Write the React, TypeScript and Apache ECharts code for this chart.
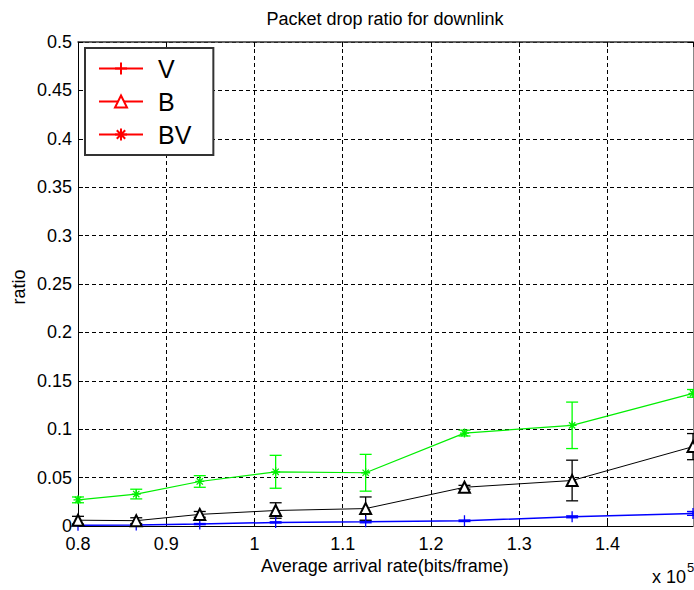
import React, { useEffect, useRef } from "react";
import * as echarts from "echarts";

const FONT = "'Liberation Sans', Arial, Helvetica, sans-serif";

const xValues = [0.8, 0.866, 0.938, 1.024, 1.126, 1.238, 1.36, 1.497];
const vValues = [0.0007, 0.001, 0.002, 0.0037, 0.0043, 0.0054, 0.0095, 0.013];
const bValues = [0.006, 0.0055, 0.012, 0.016, 0.018, 0.04, 0.047, 0.082];
const bvValues = [0.027, 0.033, 0.046, 0.056, 0.055, 0.096, 0.104, 0.137];
const vErr = [0.0005, 0.0005, 0.0006, 0.0006, 0.001, 0.0008, 0.001, 0.002];
const bErr = [0.004, 0.003, 0.003, 0.008, 0.012, 0.002, 0.021, 0.0135];
const bvErr = [0.003, 0.005, 0.006, 0.017, 0.019, 0.003, 0.024, 0.004];
const legendNames = ["V", "B", "BV"];

const X_MIN = 0.8;
const X_MAX = 1.497;
const Y_MIN = 0;
const Y_MAX = 0.5;

const PLUS = "path://M5,0L5,10M0,5L10,5";
const STAR = "path://M5,0L5,10M0,5L10,5M1.5,1.5L8.5,8.5M1.5,8.5L8.5,1.5";

function errData(vals: number[], errs: number[]) {
  return xValues.map((x, i) => [x, vals[i] - errs[i], vals[i] + errs[i]]);
}

function errorSeries(name: string, vals: number[], errs: number[], color: string) {
  return {
    name,
    type: "custom",
    xAxisIndex: 0,
    yAxisIndex: 0,
    z: 3,
    encode: { x: 0, y: [1, 2] },
    data: errData(vals, errs),
    renderItem: (params: any, api: any) => {
      const x = api.value(0);
      const lo = api.value(1);
      const hi = api.value(2);
      const p1 = api.coord([x, lo]);
      const p2 = api.coord([x, hi]);
      const hw = 6;
      const style = { stroke: color, lineWidth: 1.3, fill: "none" };
      return {
        type: "group",
        children: [
          { type: "line", shape: { x1: p1[0], y1: p1[1], x2: p2[0], y2: p2[1] }, style },
          { type: "line", shape: { x1: p1[0] - hw, y1: p1[1], x2: p1[0] + hw, y2: p1[1] }, style },
          { type: "line", shape: { x1: p2[0] - hw, y1: p2[1], x2: p2[0] + hw, y2: p2[1] }, style },
        ],
      };
    },
  };
}

function lineSeries(name: string, vals: number[], color: string, symbol: string, size: number, width: number) {
  return {
    name,
    type: "line",
    xAxisIndex: 0,
    yAxisIndex: 0,
    z: 4,
    data: xValues.map((x, i) => [x, vals[i]]),
    symbol,
    symbolSize: size,
    showSymbol: true,
    lineStyle: { color, width },
    itemStyle: { color, borderColor: color, borderWidth: 1.3 },
  };
}

function legendSeries(name: string, symbol: string) {
  return {
    name,
    type: "line",
    xAxisIndex: 0,
    yAxisIndex: 0,
    data: [],
    symbol,
    symbolSize: 12,
    lineStyle: { color: "#ff0000", width: 1.5 },
    itemStyle: { color: "#ff0000", borderColor: "#ff0000", borderWidth: 1.5 },
  };
}

const App: React.FC = () => {
  const ref = useRef<HTMLDivElement>(null);

  useEffect(() => {
    if (!ref.current) return;
    const chart = echarts.init(ref.current, undefined, { renderer: "svg" });
    const axisCommon = {
      type: "value",
      axisTick: { show: true, inside: true, length: 5, lineStyle: { color: "#000" } },
    };
    const option: any = {
      animation: false,
      backgroundColor: "#ffffff",
      grid: { left: 78, right: 1, top: 42, bottom: 64, containLabel: false },
      xAxis: [
        {
          ...axisCommon,
          position: "bottom",
          min: X_MIN,
          max: X_MAX,
          interval: 0.1,
          axisLine: { show: true, onZero: false, lineStyle: { color: "#000", width: 1 } },
          axisLabel: {
            show: true,
            margin: 12,
            lineHeight: 12,
            showMaxLabel: false,
            color: "#000",
            fontSize: 18,
            fontFamily: FONT,
            formatter: (v: number) => String(Math.round(v * 10) / 10),
          },
          splitLine: { show: true, lineStyle: { color: "#000", type: [4, 3], width: 1 } },
        },
        {
          ...axisCommon,
          position: "top",
          min: X_MIN,
          max: X_MAX,
          interval: 0.1,
          axisLine: { show: true, onZero: false, lineStyle: { color: "#333", width: 1.5 } },
          axisLabel: { show: false },
          splitLine: { show: false },
        },
      ],
      yAxis: [
        {
          ...axisCommon,
          position: "left",
          min: Y_MIN,
          max: Y_MAX,
          interval: 0.05,
          axisLine: { show: true, onZero: false, lineStyle: { color: "#000", width: 1 } },
          axisLabel: {
            show: true,
            margin: 6,
            lineHeight: 12,
            color: "#000",
            fontSize: 18,
            fontFamily: FONT,
            formatter: (v: number) => String(parseFloat(v.toFixed(2))),
          },
          splitLine: { show: true, lineStyle: { color: "#000", type: [4, 3], width: 1 } },
        },
        {
          ...axisCommon,
          position: "right",
          min: Y_MIN,
          max: Y_MAX,
          interval: 0.05,
          axisLine: { show: true, onZero: false, lineStyle: { color: "#888", width: 1 } },
          axisLabel: { show: false },
          splitLine: { show: false },
        },
      ],
      legend: {
        data: legendNames,
        orient: "vertical",
        left: 85,
        top: 48,
        padding: [8, 22, 8, 13],
        itemGap: 8,
        itemWidth: 44,
        itemHeight: 15,
        backgroundColor: "#ffffff",
        borderColor: "#333",
        borderWidth: 2,
        borderRadius: 0,
        selectedMode: false,
        textStyle: { fontSize: 25, color: "#000", fontFamily: FONT, padding: [0, 0, 0, 10] },
      },
      graphic: [
        {
          type: "text",
          style: {
            text: "Packet drop ratio for downlink",
            x: 385,
            y: 10,
            textAlign: "center",
            fontSize: 18,
            fontFamily: FONT,
            fill: "#000",
          },
        },
        {
          type: "text",
          style: {
            text: "Average arrival rate(bits/frame)",
            x: 385,
            y: 557,
            textAlign: "center",
            fontSize: 18,
            fontFamily: FONT,
            fill: "#000",
          },
        },
        {
          type: "text",
          rotation: Math.PI / 2,
          x: 19,
          y: 287,
          style: {
            text: "ratio",
            x: 0,
            y: 0,
            textAlign: "center",
            textVerticalAlign: "middle",
            fontSize: 18,
            fontFamily: FONT,
            fill: "#000",
          },
        },
        {
          type: "text",
          style: {
            text: "x 10",
            x: 652,
            y: 568,
            fontSize: 18,
            fontFamily: FONT,
            fill: "#000",
          },
        },
        {
          type: "text",
          style: {
            text: "5",
            x: 687,
            y: 561,
            fontSize: 13,
            fontFamily: FONT,
            fill: "#000",
          },
        },
      ],
      series: [
        errorSeries("V-err", vValues, vErr, "#0000ff"),
        errorSeries("B-err", bValues, bErr, "#000000"),
        errorSeries("BV-err", bvValues, bvErr, "#00ff00"),
        lineSeries("V-data", vValues, "#0000ff", PLUS, 11, 1.5),
        lineSeries("B-data", bValues, "#000000", "emptyTriangle", 11, 1),
        lineSeries("BV-data", bvValues, "#00ee00", STAR, 9, 1.2),
        legendSeries("V", PLUS),
        legendSeries("B", "emptyTriangle"),
        legendSeries("BV", STAR),
      ],
    };
    chart.setOption(option);
    return () => chart.dispose();
  }, []);

  return (
    <div
      ref={ref}
      style={{ position: "fixed", left: 0, top: 0, width: 694, height: 590, background: "#fff" }}
    />
  );
};

export default App;
